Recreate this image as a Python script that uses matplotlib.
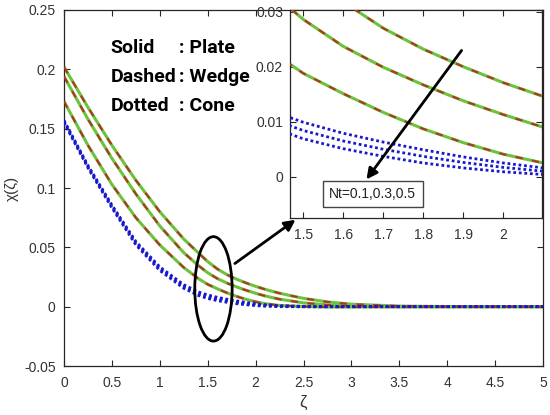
import matplotlib
matplotlib.use("Agg")
import matplotlib.pyplot as plt
from matplotlib.patches import Ellipse, FancyArrowPatch

# ---------------- data ----------------
zeta = [0, 0.25, 0.5, 0.75, 1.0, 1.25, 1.4, 1.5, 1.6, 1.7, 1.8, 1.9, 2.0, 2.1,
        2.25, 2.5, 2.75, 3.0, 3.5, 4.0, 4.5, 5.0]

# Plate (solid) / Wedge (dashed) curves coincide, one per Nt value
plate_nt05 = [0.202, 0.168, 0.136, 0.1065, 0.080, 0.057, 0.0455, 0.0380, 0.0318, 0.0270,
              0.0232, 0.0200, 0.0171, 0.0146, 0.0113, 0.0070, 0.0040, 0.0021, 0.0005, 0.0001, 0.0, 0.0]
plate_nt03 = [0.194, 0.158, 0.125, 0.095, 0.068, 0.0455, 0.0348, 0.0286, 0.0237, 0.0199,
              0.0167, 0.0138, 0.0113, 0.0090, 0.0063, 0.0032, 0.0014, 0.0005, 0.0, 0.0, 0.0, 0.0]
plate_nt01 = [0.173, 0.136, 0.103, 0.075, 0.052, 0.0330, 0.0238, 0.0188, 0.0151, 0.0117,
              0.0087, 0.0062, 0.0041, 0.0025, 0.0010, 0.0001, -0.0003, -0.0003, -0.0002, -0.0001, 0.0, 0.0]
wedge_nt05 = list(plate_nt05)
wedge_nt03 = list(plate_nt03)
wedge_nt01 = list(plate_nt01)

# Cone (dotted)
cone_nt05 = [0.157, 0.119, 0.0857, 0.0549, 0.0335, 0.0185, 0.0125, 0.0099, 0.0079, 0.0063,
             0.0049, 0.0036, 0.0025, 0.0016, 0.0008, 0.0003, 0.0001, 0, 0, 0, 0, 0]
cone_nt03 = [0.156, 0.118, 0.0845, 0.0535, 0.0320, 0.0170, 0.0110, 0.0084, 0.0065, 0.0050,
             0.0037, 0.0026, 0.0017, 0.0010, 0.0004, 0.0001, 0, 0, 0, 0, 0, 0]
cone_nt01 = [0.155, 0.117, 0.0833, 0.0521, 0.0305, 0.0155, 0.0095, 0.0069, 0.0051, 0.0037,
             0.0025, 0.0016, 0.0009, 0.0004, 0.0000, -0.0001, -0.0001, 0, 0, 0, 0, 0]

x_ticks = [0, 0.5, 1, 1.5, 2, 2.5, 3, 3.5, 4, 4.5, 5]
x_ticklabels = ["0", "0.5", "1", "1.5", "2", "2.5", "3", "3.5", "4", "4.5", "5"]
y_ticks = [-0.05, 0, 0.05, 0.1, 0.15, 0.2, 0.25]
y_ticklabels = ["-0.05", "0", "0.05", "0.1", "0.15", "0.2", "0.25"]
in_x_ticks = [1.5, 1.6, 1.7, 1.8, 1.9, 2.0]
in_x_ticklabels = ["1.5", "1.6", "1.7", "1.8", "1.9", "2"]
in_y_ticks = [0, 0.01, 0.02, 0.03]
in_y_ticklabels = ["0", "0.01", "0.02", "0.03"]

# ---------------- style ----------------
GREEN = "#6cc23a"
RED = "#b03524"
BLUE = "#1818cc"
AXC = "#262626"
plt.rcParams["font.family"] = ["Liberation Sans", "DejaVu Sans"]

fig = plt.figure(figsize=(5.5, 4.15), dpi=100)
W, H = 550.0, 415.0
ax = fig.add_axes([64 / W, 1 - 366 / H, 479 / W, 356 / H])
axin = fig.add_axes([290 / W, 1 - 218 / H, 252 / W, 208 / H])


def draw_curves(a):
    for ys in (plate_nt05, plate_nt03, plate_nt01):
        a.plot(zeta, ys, color=GREEN, lw=2.2, solid_capstyle="butt", zorder=2)
    for ys in (wedge_nt05, wedge_nt03, wedge_nt01):
        a.plot(zeta, ys, color=RED, lw=1.5, linestyle=(0, (3.5, 4.5)), zorder=3)
    for ys in (cone_nt05, cone_nt03, cone_nt01):
        a.plot(zeta, ys, color=BLUE, lw=2.0, linestyle=(0, (1, 1)), zorder=4)


def style_axes(a):
    a.tick_params(direction="in", top=True, right=True, length=4, width=0.8,
                  colors=AXC, labelsize=10, labelcolor="#333333")
    for s in a.spines.values():
        s.set_color(AXC)
        s.set_linewidth(0.9)


# main axes
draw_curves(ax)
ax.set_xlim(0, 5)
ax.set_ylim(-0.05, 0.25)
ax.set_xticks(x_ticks)
ax.set_xticklabels(x_ticklabels)
ax.set_yticks(y_ticks)
ax.set_yticklabels(y_ticklabels)
style_axes(ax)
ax.tick_params(axis="x", pad=7)
ax.tick_params(axis="y", pad=6)
ax.set_xlabel("ζ", fontsize=12, color="#333333", labelpad=4)
ax.set_ylabel("χ(ζ)", fontsize=11, color="#333333", labelpad=4)

# legend-like text
tkw = dict(transform=ax.transAxes, fontsize=14, fontweight="bold",
           family=["Roboto", "DejaVu Sans"], va="center", ha="left", color="black")
for lab, val, yy in (("Solid", ": Plate", 0.893), ("Dashed", ": Wedge", 0.812), ("Dotted", ": Cone", 0.730)):
    ax.text(0.097, yy, lab, **tkw)
    ax.text(0.240, yy, val, **tkw)

# ellipse marking the zoom region
ax.add_patch(Ellipse((1.56, 0.015), 0.39, 0.088, fill=False, edgecolor="black", lw=2, zorder=6))

# arrow from ellipse to inset
arr = FancyArrowPatch((1.76, 0.035), (2.44, 0.0746), transform=ax.transData,
                      arrowstyle="-|>", mutation_scale=16, color="black", lw=2, zorder=10)
fig.add_artist(arr)

# inset axes
axin.set_facecolor("white")
draw_curves(axin)
axin.set_xlim(1.467, 2.097)
axin.set_ylim(-0.0075, 0.0303)
axin.set_xticks(in_x_ticks)
axin.set_xticklabels(in_x_ticklabels)
axin.set_yticks(in_y_ticks)
axin.set_yticklabels(in_y_ticklabels)
style_axes(axin)
axin.tick_params(axis="x", pad=7)
axin.tick_params(axis="y", pad=5)

axin.annotate("", xy=(1.654, -0.0009), xytext=(1.9, 0.02335), xycoords="data",
              arrowprops=dict(arrowstyle="-|>", color="black", lw=2, mutation_scale=16), zorder=8)
axin.text(1.674, -0.0031, "Nt=0.1,0.3,0.5", fontsize=10, ha="center", va="center", color="#222222",
          bbox=dict(boxstyle="square,pad=0.45", fc="white", ec="#444444", lw=1), zorder=9)

fig.savefig("out.png", dpi=100)
